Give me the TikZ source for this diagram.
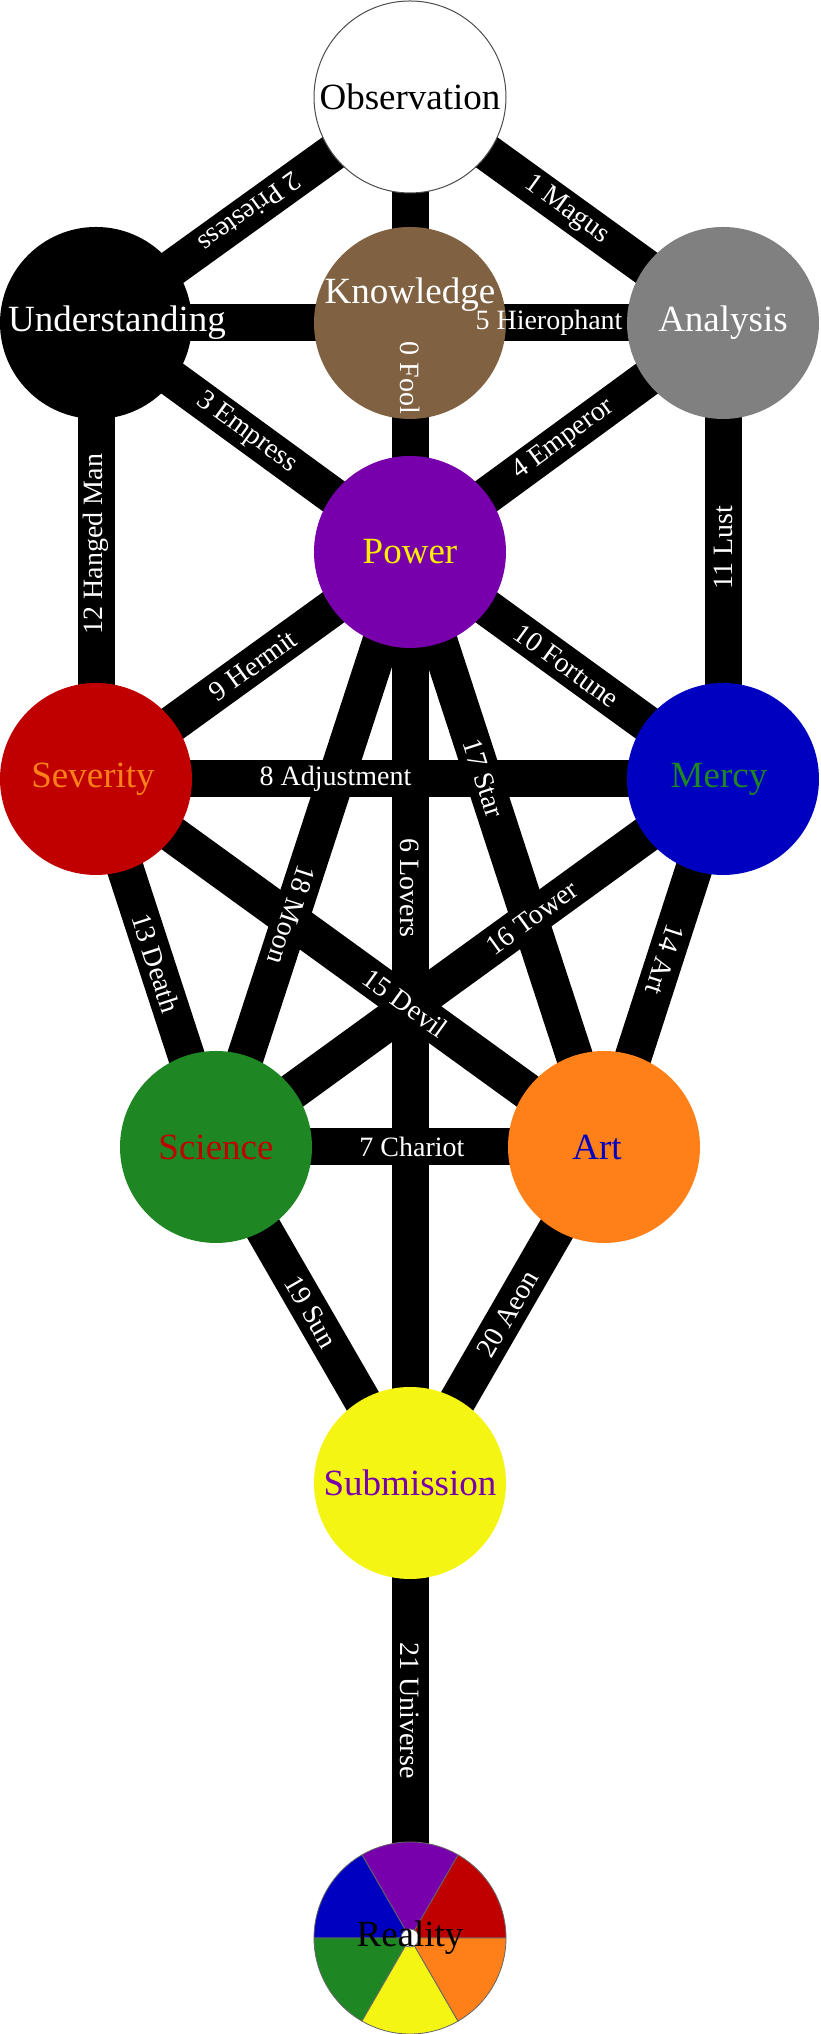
\documentclass[tikz,border=0pt]{standalone}
\usepackage{fontspec}
\setmainfont{Liberation Serif}
\usetikzlibrary{positioning}
\pgfdeclarelayer{bars}
\pgfsetlayers{bars,main}
\definecolor{knobrown}{RGB}{128,98,66}
\definecolor{powpurple}{RGB}{120,0,172}
\definecolor{sevred}{RGB}{192,0,0}
\definecolor{merblue}{RGB}{0,0,192}
\definecolor{scigreen}{RGB}{30,135,36}
\definecolor{artorange}{RGB}{255,128,25}
\definecolor{subyellow}{RGB}{245,245,20}
\definecolor{powtext}{RGB}{255,238,0}

\begin{document}
\begin{tikzpicture}[
  x=1pt, y=1pt, on grid,
  disc/.style={circle, minimum size=192pt, inner sep=0pt},
  every label/.style={font=\fontsize{37}{40}\selectfont, inner sep=0pt},
  bar/.style={line width=37pt},
  pathlabel/.style={font=\fontsize{28}{30}\selectfont, text=white, inner sep=0pt, sloped, allow upside down}
]
\useasboundingbox (0,0) rectangle (820,2034);
\node[disc, fill=white, draw=black!70, line width=1pt, label=center:Observation] (obs) at (410,1937) {};
\node[disc, fill=knobrown, below=226pt of obs, label={[white, yshift=28pt]center:Knowledge}] (kno) {};
\node[disc, fill=black, left=314pt of kno, label={[white, xshift=21pt]center:Understanding}] (und) {};
\node[disc, fill=gray, right=313pt of kno, label={[white]center:Analysis}] (ana) {};
\node[disc, fill=powpurple, below=229pt of kno, label={[powtext]center:Power}] (pow) {};
\node[disc, fill=sevred, below=456pt of und, label={[artorange, xshift=-3pt]center:Severity}] (sev) {};
\node[disc, fill=merblue, below=456pt of ana, label={[scigreen, xshift=-4pt]center:Mercy}] (mer) {};
\node[disc, fill=scigreen, below right=368pt and 120pt of sev, label={[sevred]center:Science}] (sci) {};
\node[disc, fill=artorange, right=388pt of sci, label={[merblue, xshift=-7pt]center:Art}] (art) {};
\node[disc, fill=subyellow, below=931pt of pow, label={[powpurple]center:Submission}] (sub) {};
\node[disc, below=455pt of sub] (rea) {};

\foreach \a/\c in {0/sevred, 60/powpurple, 120/merblue, 180/scigreen, 240/subyellow, 300/artorange}
  \filldraw[fill=\c, draw=black!60, line width=0.8pt] (rea.center) -- ++(\a:96) arc[start angle=\a, delta angle=60, radius=96] -- cycle;
\filldraw[fill=white, draw=black!60, line width=0.8pt] (rea.center) circle[radius=9];
\node[font=\fontsize{37}{40}\selectfont, inner sep=0pt] (realabel) at (rea) {Reality};

\begin{pgfonlayer}{bars}
\foreach \a/\b in {obs/pow, obs/ana, obs/und, und/pow, pow/ana, und/ana, pow/sub, sci/art,
  sev/mer, sev/pow, pow/mer, mer/ana, sev/und, sev/sci, mer/art, sev/art, sci/mer,
  pow/art, pow/sci, sci/sub, sub/art, sub/rea}
  \draw[bar] (\a.center) -- (\b.center);
\end{pgfonlayer}

\foreach \a/\b/\p/\t in {obs/pow/0.618/0 Fool, obs/ana/0.5/1 Magus, obs/und/0.51/2 Priestess,
  und/pow/0.48/3 Empress, pow/ana/0.49/4 Emperor, und/ana/0.7225/5 Hierophant,
  pow/sub/0.361/6 Lovers, sci/art/0.505/7 Chariot, sev/mer/0.382/8 Adjustment,
  sev/pow/0.5/9 Hermit, pow/mer/0.5/10 Fortune, mer/ana/0.507/11 Lust,
  sev/und/0.515/12 Hanged Man, sev/sci/0.5/13 Death, mer/art/0.49/14 Art,
  sev/art/0.609/15 Devil, sci/mer/0.623/16 Tower, pow/art/0.38/17 Star,
  pow/sci/0.61/18 Moon, sci/sub/0.49/19 Sun, sub/art/0.503/20 Aeon, sub/rea/0.5/21 Universe}
  \path (\a.center) -- node[pathlabel, pos=\p] {\t} (\b.center);
\end{tikzpicture}
\end{document}
